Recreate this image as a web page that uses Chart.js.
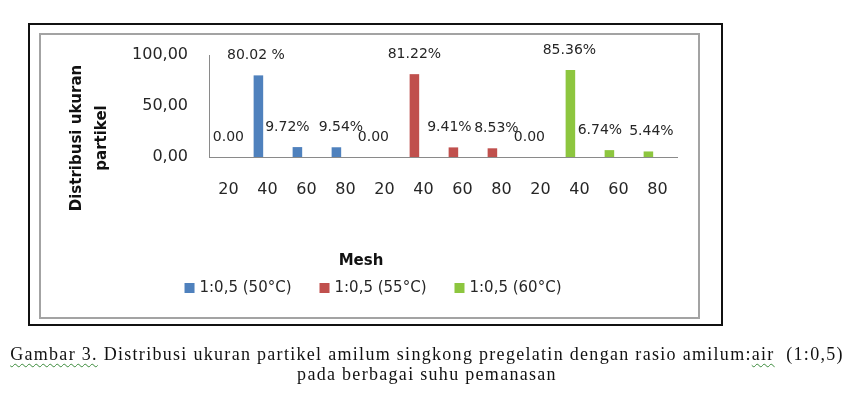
<!DOCTYPE html>
<html>
<head>
<meta charset="utf-8">
<script src="https://cdn.jsdelivr.net/npm/chart.js@4.4.1/dist/chart.umd.min.js"></script>
<style>
html,body{margin:0;padding:0;background:#fff;width:854px;height:395px;overflow:hidden;position:relative;}
#outer{position:absolute;left:28px;top:23px;width:695px;height:303px;border:2px solid #111;box-sizing:border-box;}
#inner{position:absolute;left:39px;top:33px;width:661px;height:286px;border:2px solid #a3a3a3;box-sizing:border-box;}
#c{position:absolute;left:0;top:0;}
#cap{position:absolute;left:0;top:345px;width:854px;text-align:center;font-family:"Liberation Serif","Times New Roman",serif;font-size:18px;line-height:19.5px;color:#111;letter-spacing:1.3px;}
.sp{text-decoration:underline wavy #3a8a3a;text-decoration-thickness:1px;text-underline-offset:3px;}
</style>
</head>
<body>
<div id="outer"></div>
<div id="inner"></div>
<canvas id="c" width="854" height="395"></canvas>
<div id="cap"><span class="sp">Gambar 3.</span> Distribusi ukuran partikel amilum singkong pregelatin dengan rasio amilum:<span class="sp">air</span>&nbsp; (1:0,5)<br>pada berbagai suhu pemanasan</div>
<script>
// ---- data ----
const categories = ['20','40','60','80','20','40','60','80','20','40','60','80'];
const seriesNames = ['1:0,5 (50°C)','1:0,5 (55°C)','1:0,5 (60°C)'];
const series50 = [0, 80.02, 9.72, 9.54, null, null, null, null, null, null, null, null];
const series55 = [null, null, null, null, 0, 81.22, 9.41, 8.53, null, null, null, null];
const series60 = [null, null, null, null, null, null, null, null, 0, 85.36, 6.74, 5.44];
const labels50 = ['0.00','80.02 %','9.72%','9.54%', null, null, null, null, null, null, null, null];
const labels55 = [null, null, null, null, '0.00','81.22%','9.41%','8.53%', null, null, null, null];
const labels60 = [null, null, null, null, null, null, null, null, '0.00','85.36%','6.74%','5.44%'];
const yTickLabels = ['0,00','50,00','100,00'];
const yTickValues = [0, 50, 100];
const yAxisTitle = ['Distribusi ukuran','partikel'];
const xAxisTitle = 'Mesh';

const colors = ['#4F81BD','#C0504D','#8DC63F'];
const valueLabels = [labels50, labels55, labels60];
const labelShift = [9,-2.5,-10,4.5,-2,0,-4,4,-2,-1,-9.5,3];

Chart.defaults.font.family = '"DejaVu Sans", sans-serif';
Chart.defaults.color = '#262626';

const overlay = {
  id: 'overlay',
  afterDatasetsDraw(chart) {
    const ctx = chart.ctx;
    ctx.save();
    // data labels
    ctx.font = '14px "DejaVu Sans"';
    ctx.fillStyle = '#262626';
    ctx.textAlign = 'center';
    ctx.textBaseline = 'middle';
    for (let d = 0; d < 3; d++) {
      const meta = chart.getDatasetMeta(d);
      const vals = chart.data.datasets[d].data;
      meta.data.forEach((bar, i) => {
        if (vals[i] == null || valueLabels[d][i] == null) return;
        ctx.fillText(valueLabels[d][i], bar.x + labelShift[i], bar.y - 20);
      });
    }
    // y axis title (two rotated lines)
    ctx.font = 'bold 15px "DejaVu Sans"';
    ctx.fillStyle = '#111';
    const ys = [[77, 138], [102, 138]];
    yAxisTitle.forEach((t, k) => {
      ctx.save();
      ctx.translate(ys[k][0], ys[k][1]);
      ctx.rotate(-Math.PI / 2);
      ctx.fillText(t, 0, 0);
      ctx.restore();
    });
    // x axis title
    ctx.fillText(xAxisTitle, 361, 261);
    // legend
    ctx.font = '15px "DejaVu Sans"';
    ctx.textAlign = 'left';
    const box = 10, gapTxt = 5, gapItem = 28;
    const widths = seriesNames.map(n => box + gapTxt + ctx.measureText(n).width);
    const total = widths.reduce((a, b) => a + b, 0) + gapItem * (seriesNames.length - 1);
    let x = 373 - total / 2;
    const ly = 288;
    seriesNames.forEach((n, k) => {
      ctx.fillStyle = colors[k];
      ctx.fillRect(x, ly - box / 2, box, box);
      ctx.fillStyle = '#262626';
      ctx.fillText(n, x + box + gapTxt, ly);
      x += widths[k] + gapItem;
    });
    ctx.restore();
  }
};

const nulls = categories.map(() => null);

new Chart(document.getElementById('c'), {
  type: 'bar',
  data: {
    labels: categories,
    datasets: [
      { label: seriesNames[0], data: series50, backgroundColor: colors[0], stack: 's1' },
      { label: seriesNames[1], data: series55, backgroundColor: colors[1], stack: 's1' },
      { label: seriesNames[2], data: series60, backgroundColor: colors[2], stack: 's1' },
      { label: '', data: nulls, stack: 's2' },
      { label: '', data: nulls, stack: 's3' }
    ]
  },
  options: {
    responsive: false,
    animation: false,
    events: [],
    categoryPercentage: 0.7,
    barPercentage: 1.05,
    layout: { padding: { left: 0, top: 55, right: 177, bottom: 178 } },
    plugins: { legend: { display: false }, tooltip: { enabled: false }, title: { display: false } },
    scales: {
      x: {
        grid: { display: false, drawTicks: false },
        border: { display: true, color: '#8a8a8a', width: 1 },
        ticks: { font: { size: 16 }, padding: 23, color: '#262626', maxRotation: 0, autoSkip: false },
        afterFit(s) { s.height = 60; }
      },
      y: {
        min: 0, max: 100,
        grid: { display: false, drawTicks: false },
        border: { display: true, color: '#8a8a8a', width: 1 },
        ticks: {
          stepSize: 50, font: { size: 16 }, padding: 21, color: '#262626',
          callback: (v) => { const k = yTickValues.indexOf(v); return k >= 0 ? yTickLabels[k] : ''; }
        },
        afterFit(s) { s.width = 209; }
      }
    }
  },
  plugins: [overlay]
});
</script>
</body>
</html>
